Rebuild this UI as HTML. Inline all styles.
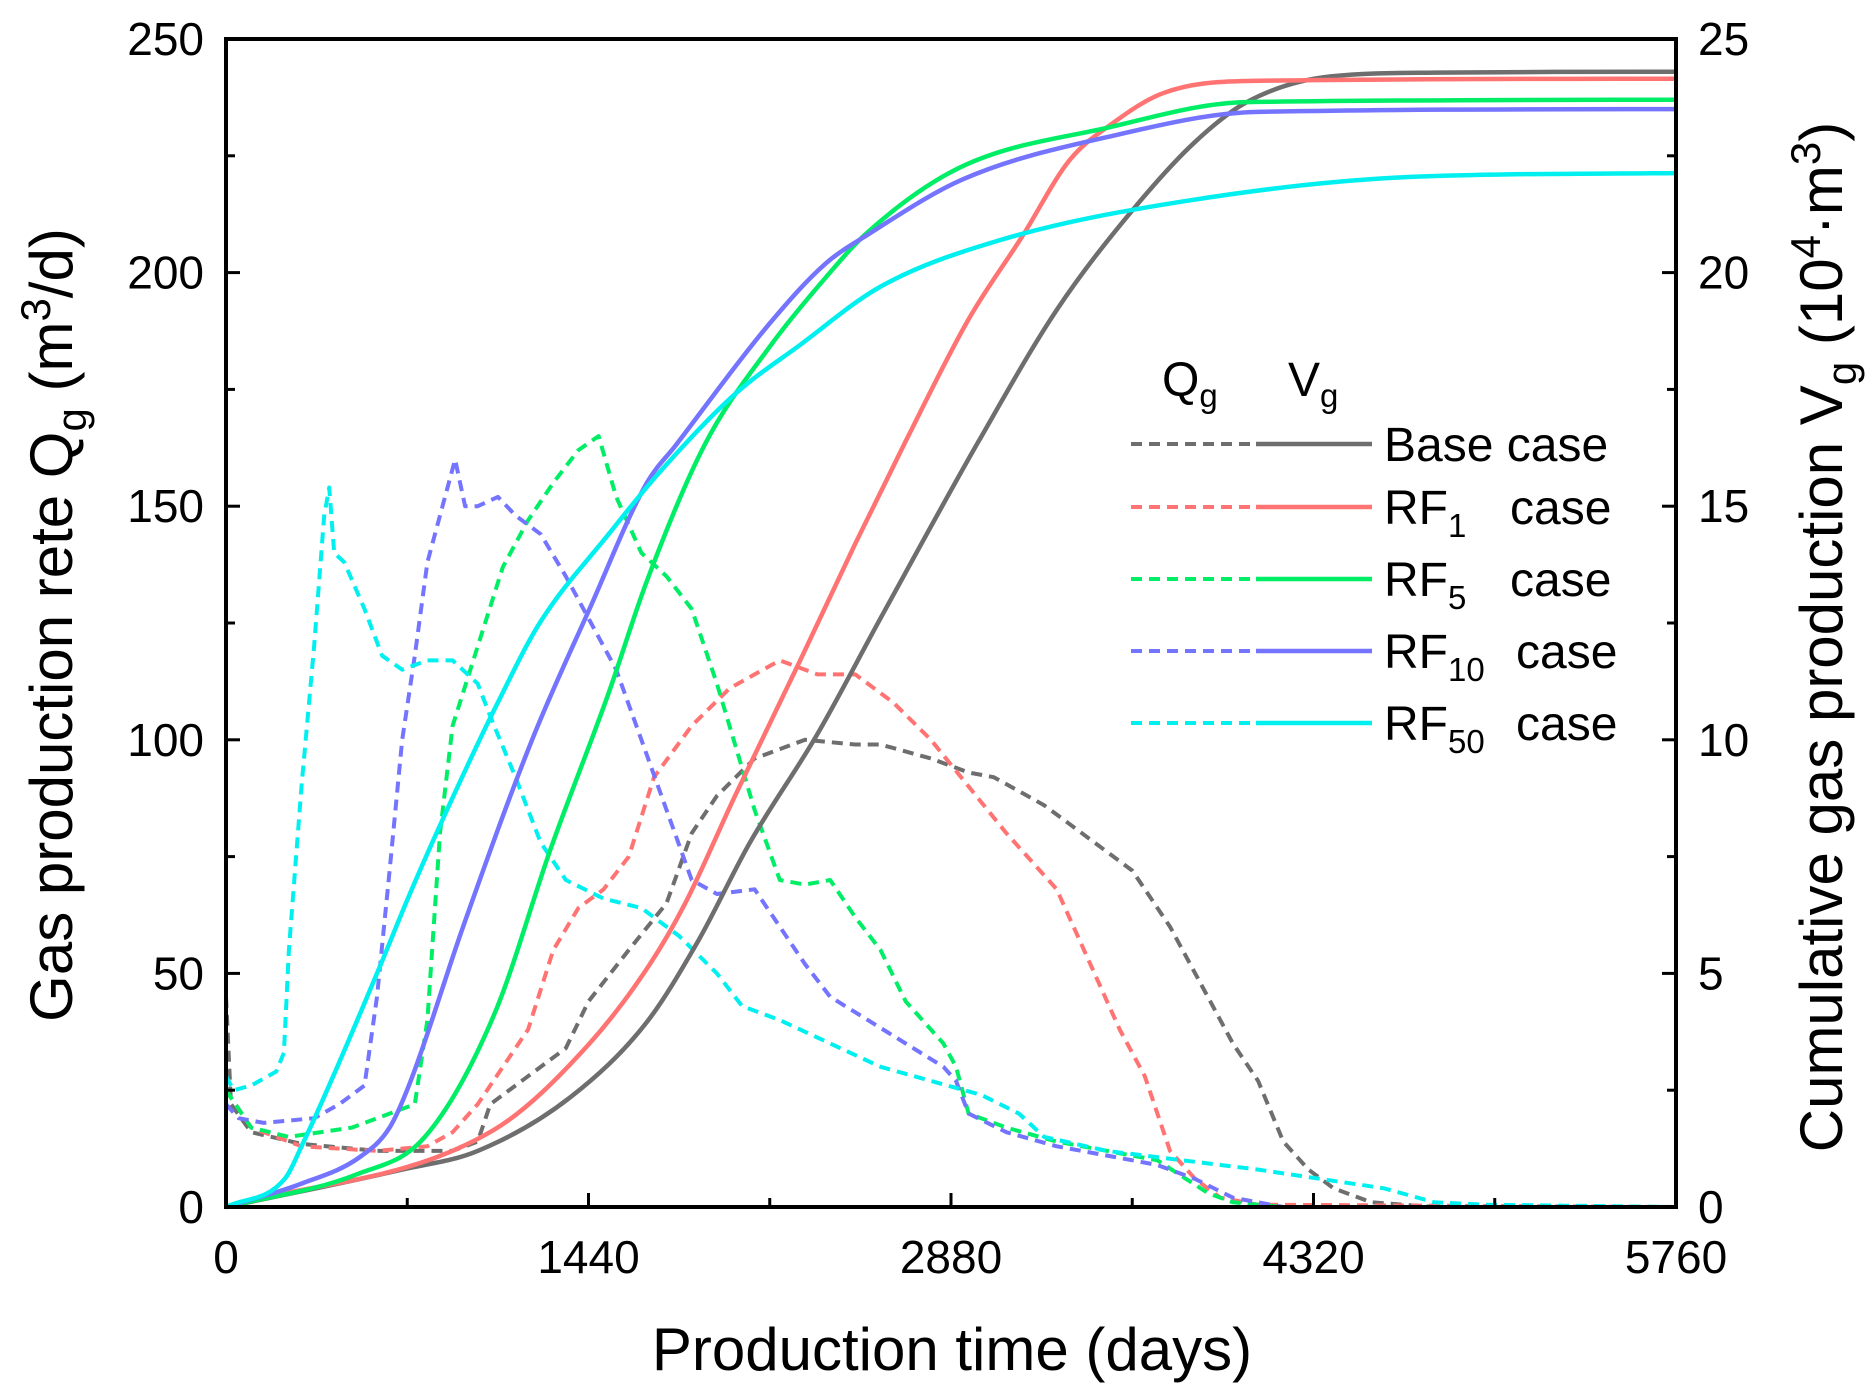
<!DOCTYPE html>
<html><head><meta charset="utf-8">
<style>
html,body{margin:0;padding:0;background:#fff;}
svg{display:block;font-family:"Liberation Sans",Arial,sans-serif;}
</style></head>
<body>
<svg id="chart" width="1866" height="1393" viewBox="0 0 1866 1393">
  <g id="marks"></g>
  <rect x="226" y="39" width="1450" height="1168" fill="none" stroke="#000" stroke-width="4"/>
  <g id="ticks"></g>
  <text x="952" y="1370" font-size="60" text-anchor="middle">Production time (days)</text>
  <text transform="translate(72,625) rotate(-90)" font-size="60" text-anchor="middle">Gas production rete Q<tspan font-size="42" dy="14">g</tspan><tspan dy="-14"> (m</tspan><tspan font-size="42" dy="-22">3</tspan><tspan dy="22">/d)</tspan></text>
  <text transform="translate(1842,637) rotate(-90)" font-size="60" text-anchor="middle">Cumulative gas production V<tspan font-size="42" dy="14">g</tspan><tspan dy="-14"> (10</tspan><tspan font-size="42" dy="-22">4</tspan><tspan dy="22">·m</tspan><tspan font-size="42" dy="-22">3</tspan><tspan dy="22">)</tspan></text>
  <g id="legend" font-size="48">
    <text x="1162" y="396">Q<tspan font-size="33" dy="11">g</tspan></text>
    <text x="1288" y="396">V<tspan font-size="33" dy="11">g</tspan></text>
  </g>
</svg>
<script>
const X0=226,X1=1676,Y0=1207,Y1=39;
const xTicks=[0,1440,2880,4320,5760];
const qTicks=[0,50,100,150,200,250];
const vTicks=[0,5,10,15,20,25];
function sx(d){return X0+(d/5760)*(X1-X0);}
function sq(q){return Y0-(q/250)*(Y0-Y1);}
function sv(v){return Y0-(v/25)*(Y0-Y1);}

const seriesNames=["Base","RF1","RF5","RF10","RF50"];
const seriesColors=["#6e6e6e","#ff7373","#00ee66","#7474ff","#00f0f0"];

// Cumulative production V (10^4 m3): [days, value]
const vBase=[[0,0],[700,0.8],[1000,1.2],[1368,2.35],[1672,3.96],[1876,5.7],[2081,7.8],[2347,10.1],[2600,12.6],[2991,16.4],[3300,19.2],[3611,21.4],[3850,22.8],[4055,23.65],[4389,24.2],[4800,24.28],[5760,24.3]];
const vRF1=[[0,0],[1064,1.65],[1444,3.5],[1684,5.2],[1824,6.5],[2022,8.8],[2281,11.7],[2500,14.2],[2701,16.4],[2950,19.0],[3166,20.8],[3350,22.4],[3523,23.2],[3722,23.84],[4055,24.1],[5760,24.15]];
const vRF5=[[0,0],[520,0.7],[790,1.5],[1064,4.1],[1292,7.7],[1520,11.0],[1672,13.4],[1900,16.3],[2158,18.4],[2383,19.9],[2546,20.85],[2912,22.24],[3500,23.1],[4055,23.65],[5760,23.7]];
const vRF10=[[0,0],[300,0.5],[532,1.07],[650,1.7],[730,2.65],[942,6.0],[1216,10.0],[1444,12.8],[1672,15.5],[1786,16.3],[2158,18.9],[2383,20.2],[2546,20.8],[2928,22.0],[3500,22.9],[4100,23.44],[5760,23.5]];
const vRF50=[[0,0],[236,0.62],[300,1.3],[426,2.8],[600,5.0],[730,6.7],[912,8.9],[1080,10.8],[1246,12.5],[1520,14.4],[1718,15.7],[2022,17.4],[2280,18.45],[2600,19.7],[3078,20.7],[3833,21.55],[4719,22.05],[5760,22.13]];

// Production rate Q (m3/d): [days, value]
const qBase=[[0,45],[20,22],[100,16],[300,13.5],[600,12],[900,12],[1000,14],[1050,22],[1200,28],[1350,34],[1440,44],[1600,55],[1750,65],[1850,80],[1950,88],[2100,96],[2200,98],[2300,100],[2500,99],[2600,99],[2800,96],[2950,93],[3050,92],[3250,86],[3400,80],[3500,76],[3600,72],[3750,60],[3900,45],[4000,35],[4100,27],[4200,14],[4300,8],[4400,4],[4550,1],[4800,0],[5760,0]];
const qRF1=[[0,25],[100,17],[300,13],[600,12],[800,13],[900,16],[1000,22],[1100,30],[1200,38],[1300,55],[1400,64],[1500,68],[1600,75],[1700,92],[1850,103],[2000,111],[2100,114],[2200,117],[2350,114],[2500,114],[2650,108],[2800,100],[2950,90],[3100,80],[3300,68],[3450,50],[3550,38],[3650,28],[3750,12],[3850,6],[3950,2],[4100,0.5],[5760,0]];
const qRF5=[[0,25],[100,17],[250,15],[500,17],[700,21],[750,22],[800,40],[850,80],[900,103],[1000,120],[1100,137],[1200,147],[1300,155],[1400,162],[1480,165],[1550,152],[1650,140],[1750,135],[1850,128],[1950,112],[2100,85],[2200,70],[2300,69],[2400,70],[2500,62],[2600,55],[2700,44],[2850,35],[2900,30],[2950,20],[3100,17],[3300,14],[3500,12],[3700,10],[3900,3],[4000,1],[4200,0],[5760,0]];
const qRF10=[[0,22],[50,19],[150,18],[350,19],[450,22],[550,26],[600,45],[650,72],[700,100],[750,118],[800,138],[850,148],[910,160],[950,150],[1000,150],[1080,152],[1150,148],[1250,144],[1350,135],[1450,125],[1550,115],[1650,100],[1750,85],[1850,70],[1950,67],[2100,68],[2200,60],[2300,52],[2400,45],[2550,40],[2700,35],[2850,30],[2900,27],[2950,20],[3100,16],[3300,13],[3500,11],[3700,9],[3850,6],[4000,2],[4200,0],[5760,0]];
const qRF50=[[0,28],[30,25],[100,26],[200,29],[230,33],[250,55],[300,90],[350,120],[390,148],[410,154],[430,140],[470,138],[550,128],[620,118],[700,115],[800,117],[900,117],[1000,112],[1050,105],[1150,92],[1250,78],[1350,70],[1500,66],[1650,64],[1800,58],[1950,50],[2050,43],[2200,40],[2400,35],[2600,30],[2800,27],[3000,24],[3150,20],[3250,15],[3500,12],[3800,10],[4100,8],[4350,6],[4600,4],[4800,1],[5000,0.5],[5760,0]];

const vSeries=[vBase,vRF1,vRF5,vRF10,vRF50];
const qSeries=[qBase,qRF1,qRF5,qRF10,qRF50];
const NS="http://www.w3.org/2000/svg";
const marks=document.getElementById('marks');
function mk(tag,attrs,parent){const e=document.createElementNS(NS,tag);for(const k in attrs)e.setAttribute(k,attrs[k]);parent.appendChild(e);return e;}
function smoothPath(pts){
  const n=pts.length;const d=[],m=[];
  for(let i=0;i<n-1;i++)d.push((pts[i+1][1]-pts[i][1])/(pts[i+1][0]-pts[i][0]));
  m[0]=d[0];m[n-1]=d[n-2];
  for(let i=1;i<n-1;i++){m[i]=(d[i-1]*d[i]<=0)?0:(d[i-1]+d[i])/2;}
  for(let i=0;i<n-1;i++){
    if(d[i]===0){m[i]=0;m[i+1]=0;continue;}
    const a=m[i]/d[i],b=m[i+1]/d[i],s=a*a+b*b;
    if(s>9){const t=3/Math.sqrt(s);m[i]=t*a*d[i];m[i+1]=t*b*d[i];}
  }
  let p='M'+pts[0][0].toFixed(1)+','+pts[0][1].toFixed(1);
  for(let i=0;i<n-1;i++){
    const h=(pts[i+1][0]-pts[i][0])/3;
    p+=' C'+(pts[i][0]+h).toFixed(1)+','+(pts[i][1]+m[i]*h).toFixed(1)+' '+(pts[i+1][0]-h).toFixed(1)+','+(pts[i+1][1]-m[i+1]*h).toFixed(1)+' '+pts[i+1][0].toFixed(1)+','+pts[i+1][1].toFixed(1);
  }
  return p;
}
qSeries.forEach((s,i)=>{
  const p=mk('polyline',{points:s.map(d=>sx(d[0]).toFixed(1)+','+sq(d[1]).toFixed(1)).join(' '),fill:'none',stroke:seriesColors[i],'stroke-width':4,'stroke-dasharray':'11 7','stroke-linejoin':'round'},marks);
  
  
});
vSeries.forEach((s,i)=>{
  const p=mk('path',{d:smoothPath(s.map(d=>[sx(d[0]),sv(d[1])])),fill:'none',stroke:seriesColors[i],'stroke-width':4.5,'stroke-linejoin':'round'},marks);
  
  
});
const tk=document.getElementById('ticks');
for(let d=0;d<=5760;d+=720){
  const major=d%1440===0;
  const l=mk('line',{x1:sx(d),x2:sx(d),y1:Y0,y2:Y0-(major?14:9),stroke:'#000','stroke-width':3},tk);
  
  
}
xTicks.forEach(d=>{
  const t=mk('text',{x:sx(d),y:1273,'font-size':46,'text-anchor':'middle'},tk);t.textContent=d;
  
  
});
for(let q=0;q<=250;q+=25){
  const major=q%50===0,len=major?14:9;
  const a=mk('line',{x1:X0,x2:X0+len,y1:sq(q),y2:sq(q),stroke:'#000','stroke-width':3},tk);
  
  
  const b=mk('line',{x1:X1,x2:X1-len,y1:sq(q),y2:sq(q),stroke:'#000','stroke-width':3},tk);
  
  
}
qTicks.forEach(q=>{
  const t=mk('text',{x:204,y:sq(q)+16,'font-size':46,'text-anchor':'end'},tk);t.textContent=q;
  
  
});
vTicks.forEach(v=>{
  const t=mk('text',{x:1698,y:sv(v)+16,'font-size':46,'text-anchor':'start'},tk);t.textContent=v;
  
  
});
const lg=document.getElementById('legend');
const rowY=[444,507,579,651,723];
const labels=[["Base case",""],["RF","1"],["RF","5"],["RF","10"],["RF","50"]];
labels.forEach((lb,i)=>{
  const g=mk('g',{},lg);
  
  
  mk('line',{x1:1131,x2:1256,y1:rowY[i],y2:rowY[i],stroke:seriesColors[i],'stroke-width':4,'stroke-dasharray':'11 7'},g);
  mk('line',{x1:1256,x2:1372,y1:rowY[i],y2:rowY[i],stroke:seriesColors[i],'stroke-width':4.5},g);
  const t=mk('text',{x:1384,y:rowY[i]+17},g);
  if(lb[1]){t.innerHTML='RF<tspan font-size="33" dy="13">'+lb[1]+'</tspan><tspan dy="-13" x="'+(lb[1].length>1?1516:1510)+'">case</tspan>';}
  else t.textContent=lb[0];
});
</script>
</body></html>
